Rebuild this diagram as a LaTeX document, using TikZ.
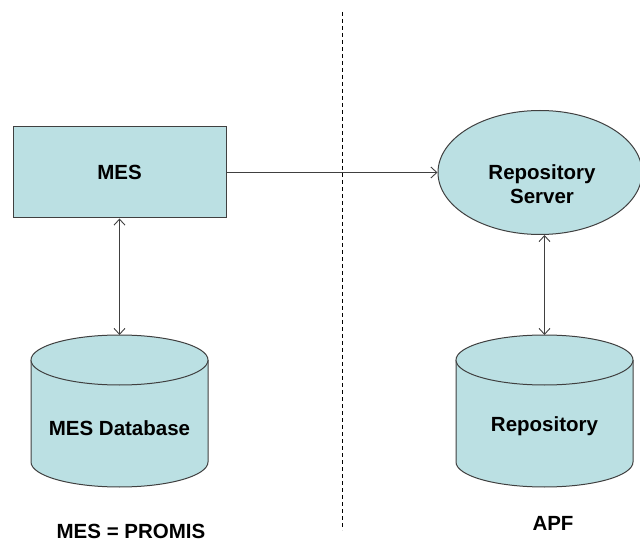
\documentclass[tikz,border=0pt]{standalone}
\usepackage{fontspec}
\setmainfont{Liberation Sans}
\usetikzlibrary{arrows.meta,shapes.geometric}

\definecolor{boxfill}{HTML}{BBE0E3}
\definecolor{edge}{HTML}{404040}

\begin{document}
\begin{tikzpicture}[x=1pt,y=-1pt,
  every node/.style={font=\fontsize{20.5}{25}\selectfont\bfseries, text=black},
  shapebox/.style={draw=edge, line width=1pt, fill=boxfill},
  link/.style={draw=edge, line width=0.9pt, {Straight Barb[length=6pt,width=11pt]}-{Straight Barb[length=6pt,width=11pt]}},
  flow/.style={draw=edge, line width=0.9pt, -{Straight Barb[length=6pt,width=11pt]}},
  caption/.style={inner sep=0pt}
]
\useasboundingbox (0,0) rectangle (640,545);

% separator between the two sides
\coordinate (septop) at (342,12);
\coordinate (sepbot) at (342,530);
\draw[black, line width=0.9pt, dash pattern=on 4pt off 3pt] (septop) -- (sepbot);

% MES box
\node[shapebox, rectangle, minimum width=213pt, minimum height=91pt, inner sep=0pt] (mes) at (119.5,172.5) {MES};

% Repository server
\node[shapebox, ellipse, minimum width=204pt, minimum height=124pt, inner sep=0pt] (rs) at (540,172.5) {};
\node[align=center, inner sep=0pt] (rslabel) at (542,184) {Repository\\[-1pt]Server};

% cylinders: centre x, half width, top-ellipse y, bottom-ellipse y, radius y
% (y axis points down, so angles through 90 run along the lower rim)
\newcommand{\drumshape}[5]{%
  \fill[boxfill] (#1-#2,#3) -- (#1-#2,#4) arc[start angle=180, end angle=0, x radius=#2, y radius=#5]
     -- (#1+#2,#3) arc[start angle=0, end angle=-180, x radius=#2, y radius=#5] -- cycle;
  \draw[edge, line width=1pt] (#1-#2,#3) -- (#1-#2,#4) arc[start angle=180, end angle=0, x radius=#2, y radius=#5]
     -- (#1+#2,#3);
  \draw[edge, line width=1pt, fill=boxfill] (#1,#3) ellipse[x radius=#2, y radius=#5];
}

\drumshape{119.5}{88.5}{360}{462}{25}
\coordinate (mesdbtop) at (119.5,335);
\node (mesdb) at (119.5,428) {MES Database};

\drumshape{544.5}{88.5}{360}{462}{25}
\coordinate (repotop) at (544.5,335);
\node (repo) at (544.5,426) {Repository};

% connectors
\draw[flow] (mes.east) -- (rs.west);
\draw[link] (mes.south) -- (mesdbtop);
\draw[link] (rs.south -| repotop) -- (repotop);

% side captions
\node[caption] (mesnote) at (131,531) {MES = PROMIS};
\node[caption] (apfnote) at (553,523) {APF};
\end{tikzpicture}
\end{document}
